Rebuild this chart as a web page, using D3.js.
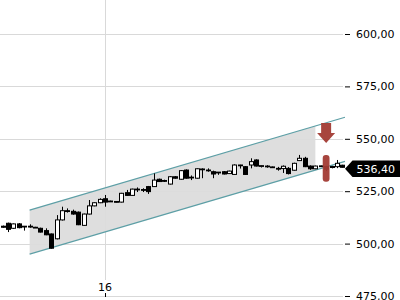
<!DOCTYPE html>
<html>
<head>
<meta charset="utf-8">
<script src="https://cdn.jsdelivr.net/npm/d3@7"></script>
<style>
  html, body { margin: 0; padding: 0; background: #fff; }
  svg { display: block; font-family: "DejaVu Sans", sans-serif; }
</style>
</head>
<body>
<svg id="chart" width="400" height="300"></svg>
<script>
// ---- data ----
const openV  = [508.3,509.7,507.3,509.4,508.1,508.3,507.8,507.3,506.2,504.6,502.3,511.3,515.7,515.4,515.0,508.7,514.1,518.0,519.5,521.4,520.3,520.1,519.8,524.3,523.0,525.8,525.8,527.2,527.2,530.7,530.1,528.4,531.9,530.7,535.1,531.5,531.2,535.4,535.1,534.3,534.0,534.3,533.4,533.0,537.4,536.7,537.5,539.9,537.1,537.0,536.6,535.9,535.8,535.9,535.0,539.6,540.7,537.0,535.7,537.0,536.8,536.8,536.7,537.4];
const highV  = [508.6,510.0,509.6,509.8,508.4,509.2,508.0,507.6,507.3,504.8,513.6,517.6,516.8,516.2,515.3,514.3,520.8,519.7,521.6,523.2,520.5,520.3,524.2,525.6,526.2,526.8,526.4,527.5,533.5,531.0,530.5,532.2,532.2,535.1,535.4,532.5,535.9,535.9,535.9,534.8,534.1,534.6,534.8,537.8,537.6,537.0,540.7,540.2,537.3,537.4,536.8,536.6,537.3,536.5,538.6,542.3,541.4,537.3,537.2,537.2,537.1,537.1,539.9,537.6];
const lowV   = [507.6,505.5,507.0,507.3,506.2,507.6,507.6,505.3,504.0,497.6,502.0,511.0,514.8,513.8,508.8,508.5,513.9,517.8,519.3,517.6,519.9,519.7,519.6,522.8,522.8,524.6,524.6,523.7,527.0,529.4,529.4,528.2,531.0,530.5,531.0,530.3,531.0,531.2,534.3,531.2,532.8,533.0,533.2,532.8,535.8,532.8,535.9,536.8,536.3,536.2,536.4,534.8,533.7,533.0,534.8,539.4,536.5,535.2,535.5,536.6,534.6,535.9,536.0,536.3];
const closeV = [507.8,506.8,509.4,507.6,508.3,507.9,507.8,505.5,504.2,497.8,511.3,515.7,515.3,514.1,509.0,514.1,518.0,519.5,521.1,519.8,520.1,519.9,524.0,523.0,526.0,526.0,525.5,524.8,530.3,529.6,529.9,531.9,531.2,534.8,531.2,531.7,535.7,535.6,535.0,533.2,534.1,533.2,534.6,537.5,537.5,533.0,539.1,537.0,537.2,536.8,536.6,535.7,536.9,533.4,538.3,540.7,536.7,535.7,537.0,537.1,535.5,536.3,538.3,536.4];

const yTicks = [475, 500, 525, 550, 575, 600];
const xTickIndex = [19];
const xTickLabels = ["16"];

// channel (regression band) in candle-index / price units
const channelStartIdx = 5, channelEndIdx = 63.5, fillEndIdx = 58;
const upperStart = 516.0, upperEnd = 560.3;
const lowerStart = 495.0, lowerEnd = 539.2;

// signal markers
const arrowIdx = 60, arrowTop = 557.5, arrowTip = 548.0;
const barIdx = 60, barHigh = 542.3, barLow = 529.5;
const lastPrice = 536.40;

// ---- scales ----
const svg = d3.select("#chart");
const x = d3.scaleLinear().domain([0, 63]).range([2.67, 342.3]);
const y = d3.scaleLinear().domain([475, 600]).range([296, 34]);
const fmt = v => d3.format(".2f")(v).replace(".", ",");

// ---- grid ----
const grid = svg.append("g");
grid.selectAll("line.h").data(yTicks).join("line")
  .attr("x1", 0).attr("x2", 343)
  .attr("y1", d => Math.round(y(d)) + 0.5).attr("y2", d => Math.round(y(d)) + 0.5)
  .attr("stroke", "#d9d9d9").attr("stroke-width", 1);
grid.selectAll("line.v").data(xTickIndex).join("line")
  .attr("x1", d => Math.round(x(d)) + 0.5).attr("x2", d => Math.round(x(d)) + 0.5)
  .attr("y1", 0).attr("y2", 280)
  .attr("stroke", "#d9d9d9").attr("stroke-width", 1);

// ---- channel ----
const up = d3.scaleLinear().domain([channelStartIdx, channelEndIdx]).range([upperStart, upperEnd]);
const lo = d3.scaleLinear().domain([channelStartIdx, channelEndIdx]).range([lowerStart, lowerEnd]);
const poly = [[channelStartIdx, up(channelStartIdx)], [fillEndIdx, up(fillEndIdx)],
              [fillEndIdx, lo(fillEndIdx)], [channelStartIdx, lo(channelStartIdx)]];
svg.append("path")
  .attr("d", d3.line().x(d => x(d[0])).y(d => y(d[1]))(poly) + "Z")
  .attr("fill", "#dcdcdc").attr("fill-opacity", 0.95);
[up, lo].forEach(s => {
  svg.append("line")
    .attr("x1", x(channelStartIdx)).attr("y1", y(s(channelStartIdx)))
    .attr("x2", x(channelEndIdx)).attr("y2", y(s(channelEndIdx)))
    .attr("stroke", "#5d9fa6").attr("stroke-width", 1.2);
});

// ---- candles ----
const data = openV.map((o, i) => ({ i, o, h: highV[i], l: lowV[i], c: closeV[i] }));
const cg = svg.append("g");
const cx = d => Math.round(x(d.i)) + 0.5;
cg.selectAll("line.w").data(data).join("line")
  .attr("x1", cx).attr("x2", cx)
  .attr("y1", d => y(d.h)).attr("y2", d => y(d.l))
  .attr("stroke", "#000").attr("stroke-width", 1);
cg.selectAll("rect").data(data).join("rect")
  .attr("x", d => cx(d) - 2)
  .attr("width", 4)
  .attr("y", d => Math.min(y(d.o), y(d.c)))
  .attr("height", d => Math.max(0.8, Math.abs(y(d.o) - y(d.c))))
  .attr("fill", d => d.c >= d.o ? "#fff" : "#000")
  .attr("stroke", "#000").attr("stroke-width", 1);

// ---- markers ----
const red = "#a23b34";
const ax = x(arrowIdx), yT = y(arrowTop), yTip = y(arrowTip), yNeck = yT + (yTip - yT) * 0.5;
svg.append("path")
  .attr("d", `M${ax-5},${yT} L${ax+5},${yT} L${ax+5},${yNeck} L${ax+9},${yNeck} L${ax},${yTip} L${ax-9},${yNeck} L${ax-5},${yNeck} Z`)
  .attr("fill", red).attr("fill-opacity", 0.95);
svg.append("rect")
  .attr("x", x(barIdx) - 3.4).attr("width", 6.8)
  .attr("y", y(barHigh)).attr("height", y(barLow) - y(barHigh))
  .attr("rx", 3).attr("fill", red).attr("fill-opacity", 0.95);

// ---- y axis ----
const yAxis = d3.axisRight(y).tickValues(yTicks).tickSize(5).tickPadding(6).tickFormat(fmt);
const ya = svg.append("g").attr("transform", "translate(345,0)").call(yAxis);
ya.select(".domain").remove();
ya.selectAll("text").attr("font-size", 11).attr("font-family", "DejaVu Sans").attr("fill", "#000");
ya.selectAll("line").attr("stroke", "#000");

// ---- x axis ----
const xa = svg.append("g");
xa.selectAll("text").data(xTickIndex).join("text")
  .attr("x", d => x(d)).attr("y", 291)
  .attr("text-anchor", "middle").attr("font-size", 11).attr("fill", "#000")
  .text((d, k) => xTickLabels[k]);
xa.selectAll("line").data(xTickIndex).join("line")
  .attr("x1", d => Math.round(x(d)) + 0.5).attr("x2", d => Math.round(x(d)) + 0.5)
  .attr("y1", 293).attr("y2", 297).attr("stroke", "#000");

// ---- last price tag ----
const ty = y(lastPrice) + 1.5;
svg.append("path")
  .attr("d", `M345,${ty} L352.5,${ty-8.2} L400,${ty-8.2} L400,${ty+8.2} L352.5,${ty+8.2} Z`)
  .attr("fill", "#000");
svg.append("text")
  .attr("x", 356.5).attr("y", ty).attr("dy", "0.36em")
  .attr("font-size", 11).attr("fill", "#fff")
  .text(fmt(lastPrice));
</script>
</body>
</html>
